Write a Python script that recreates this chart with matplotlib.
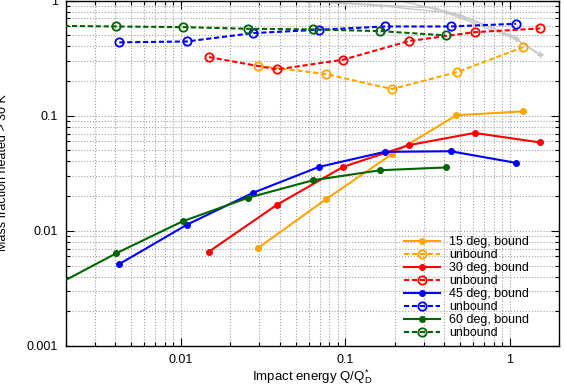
import matplotlib
matplotlib.use("Agg")
import matplotlib.pyplot as plt
from matplotlib.ticker import LogLocator, FuncFormatter, NullFormatter

plt.rcParams["font.family"] = ["Liberation Sans", "DejaVu Sans"]
plt.rcParams["mathtext.fontset"] = "custom"
plt.rcParams["mathtext.rm"] = "Liberation Sans"
plt.rcParams["mathtext.it"] = "Liberation Sans"

# 15 deg
x15 = [0.0295, 0.0761, 0.1925, 0.474, 1.216]
b15 = [0.0071, 0.01875, 0.0463, 0.1008, 0.109]
x15u = [0.0295, 0.0761, 0.1925, 0.48, 1.21]
u15 = [0.2717, 0.2298, 0.1703, 0.239, 0.3938]
# 30 deg
x30 = [0.0148, 0.0384, 0.097, 0.243, 0.6125, 1.54]
b30 = [0.00659, 0.01683, 0.0359, 0.0554, 0.0708, 0.0585]
u30 = [0.3226, 0.252, 0.306, 0.444, 0.531, 0.572]
# 45 deg
x45 = [0.00422, 0.01088, 0.0275, 0.0693, 0.1738, 0.4378, 1.098]
b45 = [0.00515, 0.0113, 0.0214, 0.0359, 0.0485, 0.0491, 0.0389]
u45 = [0.433, 0.441, 0.521, 0.557, 0.595, 0.595, 0.628]
# 60 deg (first point lies left of the plotted range)
x60 = [0.001, 0.00404, 0.01024, 0.02564, 0.0637, 0.1637, 0.408]
b60 = [0.00222, 0.00638, 0.01209, 0.01936, 0.0275, 0.0336, 0.0355]
u60 = [0.607, 0.595, 0.587, 0.568, 0.561, 0.542, 0.498]

# faint grey reference curves (top right)
gx1 = [0.06, 0.164, 0.408, 1.1, 1.54]
gy1 = [0.98, 0.9, 0.787, 0.46, 0.334]
gx2 = [0.03, 0.1, 0.35, 0.7, 1.1]
gy2 = [1.02, 0.95, 0.86, 0.62, 0.47]
gx3 = [0.2, 0.5, 1.0, 1.54]
gy3 = [1.02, 0.75, 0.5, 0.34]

ORANGE, RED, BLUE, GREEN, GREY = "#ffa500", "#ff0000", "#0000ff", "#006400", "#c8c8c8"

fig = plt.figure(figsize=(5.65, 3.87), dpi=100)
ax = fig.add_axes([66 / 565, 1 - 346 / 387, (559 - 66) / 565, 345.5 / 387])

for gx, gy in [(gx1, gy1), (gx2, gy2), (gx3, gy3)]:
    ax.plot(gx, gy, color=GREY, lw=1.0, marker="+", ms=4, zorder=2)

dash = (2.5, 1.3)
series = [("15 deg, bound", x15, b15, x15u, u15, ORANGE),
          ("30 deg, bound", x30, b30, x30, u30, RED),
          ("45 deg, bound", x45, b45, x45, u45, BLUE),
          ("60 deg, bound", x60, b60, x60, u60, GREEN)]
for lab, xb, yb, xu, yu, c in series:
    ax.plot(xb, yb, color=c, lw=1.5, marker="o", ms=4, label=lab, zorder=3)
    ax.plot(xu, yu, color=c, lw=1.5, ls=(0, dash), marker="o", ms=6,
            mfc="none", mew=1.3, label="unbound", zorder=3)

ax.set_xscale("log")
ax.set_yscale("log")
ax.set_xlim(0.002, 2)
ax.set_ylim(0.001, 1)

fmt = FuncFormatter(lambda v, p: f"{v:g}")
ax.xaxis.set_major_locator(LogLocator(base=10))
ax.yaxis.set_major_locator(LogLocator(base=10))
ax.xaxis.set_major_formatter(fmt)
ax.yaxis.set_major_formatter(fmt)
ax.xaxis.set_minor_formatter(NullFormatter())
ax.yaxis.set_minor_formatter(NullFormatter())
ax.tick_params(which="both", direction="in", top=True, right=True, labelsize=9, width=0.8)
ax.tick_params(which="major", length=6, pad=6)
ax.tick_params(which="minor", length=3)
ax.grid(True, which="both", color="#a0a0a0", ls=":", lw=0.8)
for s in ax.spines.values():
    s.set_linewidth(1.0)

ax.set_xlabel("Impact energy Q/Q$^{*}_{\\rm D}$", fontsize=9.5, labelpad=1)
fig.text(3 / 565, 1 - 173 / 387, "Mass fraction heated > 30 K", rotation=90,
         ha="center", va="center", fontsize=9)

ax.legend(loc="upper left", bbox_to_anchor=(404 / 565, 1 - 236 / 387),
          bbox_transform=fig.transFigure, frameon=False, fontsize=9,
          handlelength=2.9, handletextpad=0.7, labelspacing=0.08,
          borderpad=0, borderaxespad=0)

fig.savefig("out.png", dpi=100)
